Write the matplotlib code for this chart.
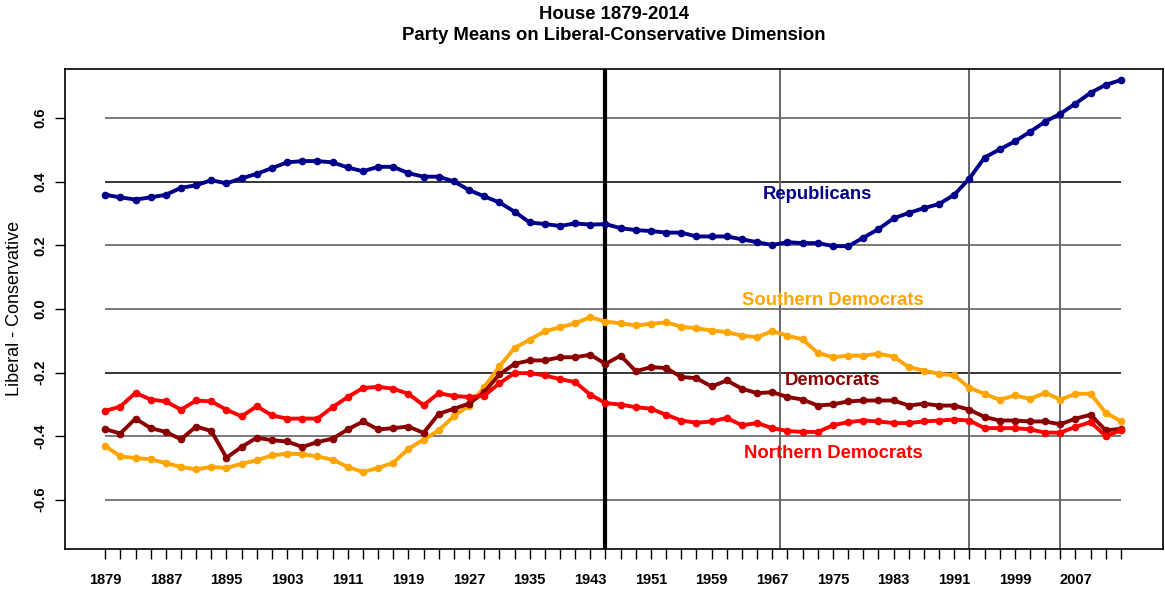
import numpy as np
import matplotlib.pyplot as plt

plt.rcParams['font.family'] = ['Liberation Sans', 'DejaVu Sans']

##=========================================================
# Party means, House 1879-2013 (one point per Congress)
##=========================================================
years = np.arange(1879, 2014, 2)

republicans = [0.359, 0.351, 0.344, 0.351, 0.359, 0.381, 0.389, 0.405, 0.395, 0.411,
               0.425, 0.443, 0.461, 0.465, 0.465, 0.461, 0.445, 0.433, 0.447, 0.447,
               0.427, 0.416, 0.416, 0.401, 0.374, 0.354, 0.335, 0.306, 0.272, 0.267,
               0.261, 0.269, 0.265, 0.267, 0.254, 0.248, 0.245, 0.240, 0.240, 0.228,
               0.228, 0.228, 0.219, 0.210, 0.201, 0.210, 0.207, 0.207, 0.198, 0.197,
               0.224, 0.251, 0.285, 0.302, 0.317, 0.330, 0.359, 0.410, 0.476, 0.502,
               0.527, 0.557, 0.589, 0.614, 0.646, 0.680, 0.705, 0.720]

southern_dems = [-0.431, -0.464, -0.469, -0.473, -0.485, -0.497, -0.505, -0.497, -0.500, -0.487,
                 -0.476, -0.461, -0.455, -0.457, -0.464, -0.474, -0.497, -0.513, -0.500, -0.484,
                 -0.440, -0.411, -0.382, -0.337, -0.304, -0.246, -0.181, -0.123, -0.097, -0.070,
                 -0.058, -0.045, -0.026, -0.040, -0.045, -0.052, -0.047, -0.042, -0.056, -0.061,
                 -0.068, -0.073, -0.084, -0.089, -0.070, -0.084, -0.096, -0.138, -0.152, -0.147,
                 -0.147, -0.141, -0.150, -0.183, -0.194, -0.204, -0.209, -0.248, -0.267, -0.286,
                 -0.272, -0.283, -0.264, -0.285, -0.267, -0.267, -0.327, -0.353]

democrats = [-0.378, -0.392, -0.345, -0.375, -0.387, -0.410, -0.370, -0.384, -0.468, -0.434,
             -0.405, -0.413, -0.417, -0.434, -0.419, -0.408, -0.379, -0.354, -0.379, -0.375,
             -0.370, -0.390, -0.330, -0.314, -0.298, -0.262, -0.206, -0.173, -0.162, -0.162,
             -0.152, -0.152, -0.144, -0.173, -0.147, -0.196, -0.183, -0.186, -0.214, -0.218,
             -0.244, -0.225, -0.251, -0.265, -0.262, -0.277, -0.285, -0.304, -0.300, -0.291,
             -0.288, -0.288, -0.288, -0.304, -0.298, -0.304, -0.304, -0.317, -0.340, -0.351,
             -0.351, -0.354, -0.354, -0.363, -0.345, -0.333, -0.382, -0.377]

northern_dems = [-0.321, -0.307, -0.264, -0.285, -0.291, -0.317, -0.288, -0.291, -0.317, -0.338,
                 -0.306, -0.335, -0.345, -0.345, -0.345, -0.309, -0.277, -0.249, -0.245, -0.251,
                 -0.267, -0.303, -0.265, -0.274, -0.277, -0.273, -0.234, -0.202, -0.202, -0.209,
                 -0.221, -0.230, -0.270, -0.296, -0.301, -0.309, -0.314, -0.333, -0.351, -0.358,
                 -0.354, -0.343, -0.366, -0.359, -0.375, -0.384, -0.387, -0.387, -0.366, -0.356,
                 -0.351, -0.354, -0.359, -0.359, -0.354, -0.351, -0.348, -0.351, -0.375, -0.375,
                 -0.375, -0.379, -0.389, -0.389, -0.371, -0.356, -0.400, -0.382]

ytick_vals = [-0.6, -0.4, -0.2, 0.0, 0.2, 0.4, 0.6]
label_years = np.arange(1879, 2008, 8)
thin_lines = [1968, 1993, 2005]

rep_c = '#00008B'
south_c = '#FFA500'
dem_c = '#8B0000'
north_c = '#FF0000'

##=========================================================
# Plot
##=========================================================
fig = plt.figure(figsize=(11.65, 5.89), dpi=100)
ax = fig.add_axes([0.0558, 0.068, 0.9422, 0.815])

# horizontal reference lines, only across the data range
for yv in ytick_vals:
    gc = 'black' if yv in (0.4, -0.2) else '#555555'
    ax.hlines(yv, years[0], years[-1], colors=gc, lw=1.1, zorder=1)

ax.axvline(1945, color='black', lw=3, zorder=1)
for xv in thin_lines:
    ax.axvline(xv, color='#666666', lw=1.4, zorder=1)

for vals, c in [(republicans, rep_c), (southern_dems, south_c),
                (democrats, dem_c), (northern_dems, north_c)]:
    ax.plot(years, vals, color=c, lw=2.8, marker='o', ms=4.5, zorder=3)

lbl = dict(fontsize=13.3, fontweight='bold', ha='center', va='center')
ax.text(1973, 0.36, 'Republicans', color=rep_c, **lbl)
ax.text(1975, 0.025, 'Southern Democrats', color=south_c, **lbl)
ax.text(1975, -0.225, 'Democrats', color=dem_c, **lbl)
ax.text(1975, -0.455, 'Northern Democrats', color=north_c, **lbl)

ax.set_xlim(1873.7, 2018.5)
ax.set_ylim(-0.755, 0.755)

ax.set_xticks(years, minor=True)
ax.set_xticks(label_years)
ax.set_xticklabels([str(y) for y in label_years], fontweight='bold', fontsize=10.5)
ax.tick_params(axis='x', which='both', direction='out', length=7, width=1, pad=10)

ax.set_yticks(ytick_vals)
ax.set_yticklabels(['%.1f' % v for v in ytick_vals], rotation=90, va='center',
                   fontweight='bold', fontsize=10.5)
ax.tick_params(axis='y', direction='out', length=7, width=1, pad=6)

for s in ax.spines.values():
    s.set_linewidth(1.2)

ax.set_ylabel('Liberal - Conservative', fontsize=13, labelpad=7)

# title centred over the plotting region
fig.text(0.527, 0.99, 'House 1879-2014\nParty Means on Liberal-Conservative Dimension',
         ha='center', va='top', fontsize=13.3, fontweight='bold', linespacing=1.35)

plt.savefig('out.png', dpi=100)
